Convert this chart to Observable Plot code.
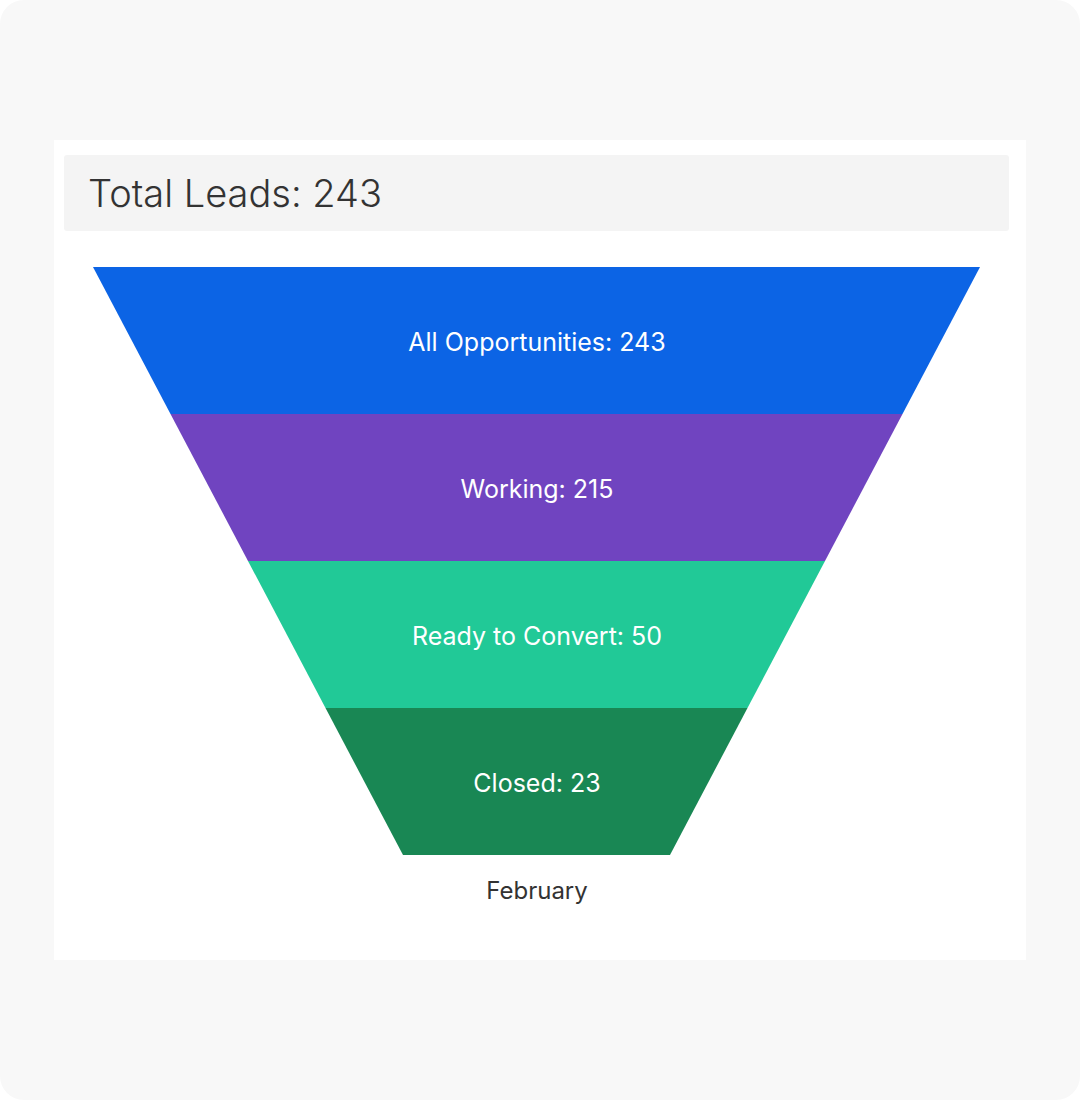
<!DOCTYPE html>
<html>
<head>
<meta charset="utf-8">
<script src="https://cdn.jsdelivr.net/npm/d3@7"></script>
<script src="https://cdn.jsdelivr.net/npm/@observablehq/plot@0.6"></script>
<style>
  html, body { margin: 0; padding: 0; background: #ffffff; }
  #card { position: absolute; left: 0; top: 0; width: 1080px; height: 1100px; background: #f8f8f8; border-radius: 24px; }
  #panel { position: absolute; left: 54px; top: 140px; width: 972px; height: 820px; background: #ffffff; }
  #title { position: absolute; left: 10px; top: 15px; width: 945px; height: 76px; background: #f4f4f4; border-radius: 3px;
           font-family: Inter, "Noto Sans", sans-serif; font-weight: 300; font-size: 38px; color: #333; line-height: 76px;
           box-sizing: border-box; padding-left: 24px; }
  #chart { position: absolute; left: 0; top: 250px; width: 1080px; }
  #chart svg { max-width: none !important; }
</style>
</head>
<body>
<div id="card"></div>
<div id="panel">
  <div id="title"></div>
</div>
<div id="chart"></div>
<script>
const stages = ["All Opportunities", "Working", "Ready to Convert", "Closed"];
const counts = [243, 215, 50, 23];
const colors = ["#0c64e5", "#7044c0", "#21c997", "#198754"];
const periodLabel = "February";
const totalLeads = 243;

document.getElementById("title").textContent = `Total Leads: ${totalLeads}`;

const neck = 0.301; // bottom half-width relative to top
const halfW = i => 1 - i * (1 - neck) / stages.length;

const areaData = [];
stages.forEach((s, i) => {
  for (const y of [i, i + 1]) {
    areaData.push({stage: s, y, x1: -halfW(y), x2: halfW(y)});
  }
});
const labelData = stages.map((s, i) => ({stage: s, y: i + 0.5, label: `${s}: ${counts[i]}`}));

const chart = Plot.plot({
  width: 1080,
  height: 680,
  marginLeft: 93,
  marginRight: 100,
  marginTop: 17,
  marginBottom: 75,
  x: {domain: [-1, 1], axis: null},
  y: {domain: [0, stages.length], axis: null, reverse: true},
  color: {domain: stages, range: colors},
  style: {fontFamily: 'Inter, "Noto Sans", sans-serif', background: "transparent"},
  marks: [
    Plot.areaX(areaData, {y: "y", x1: "x1", x2: "x2", z: "stage", fill: "stage", curve: "linear"}),
    Plot.text(labelData, {x: () => 0, y: "y", text: "label", fill: "white", fontSize: 25, dy: 2}),
    Plot.text([periodLabel], {x: () => 0, y: () => stages.length, text: d => d, dy: 36, fill: "#333", fontSize: 24})
  ]
});
document.getElementById("chart").appendChild(chart);
</script>
</body>
</html>
